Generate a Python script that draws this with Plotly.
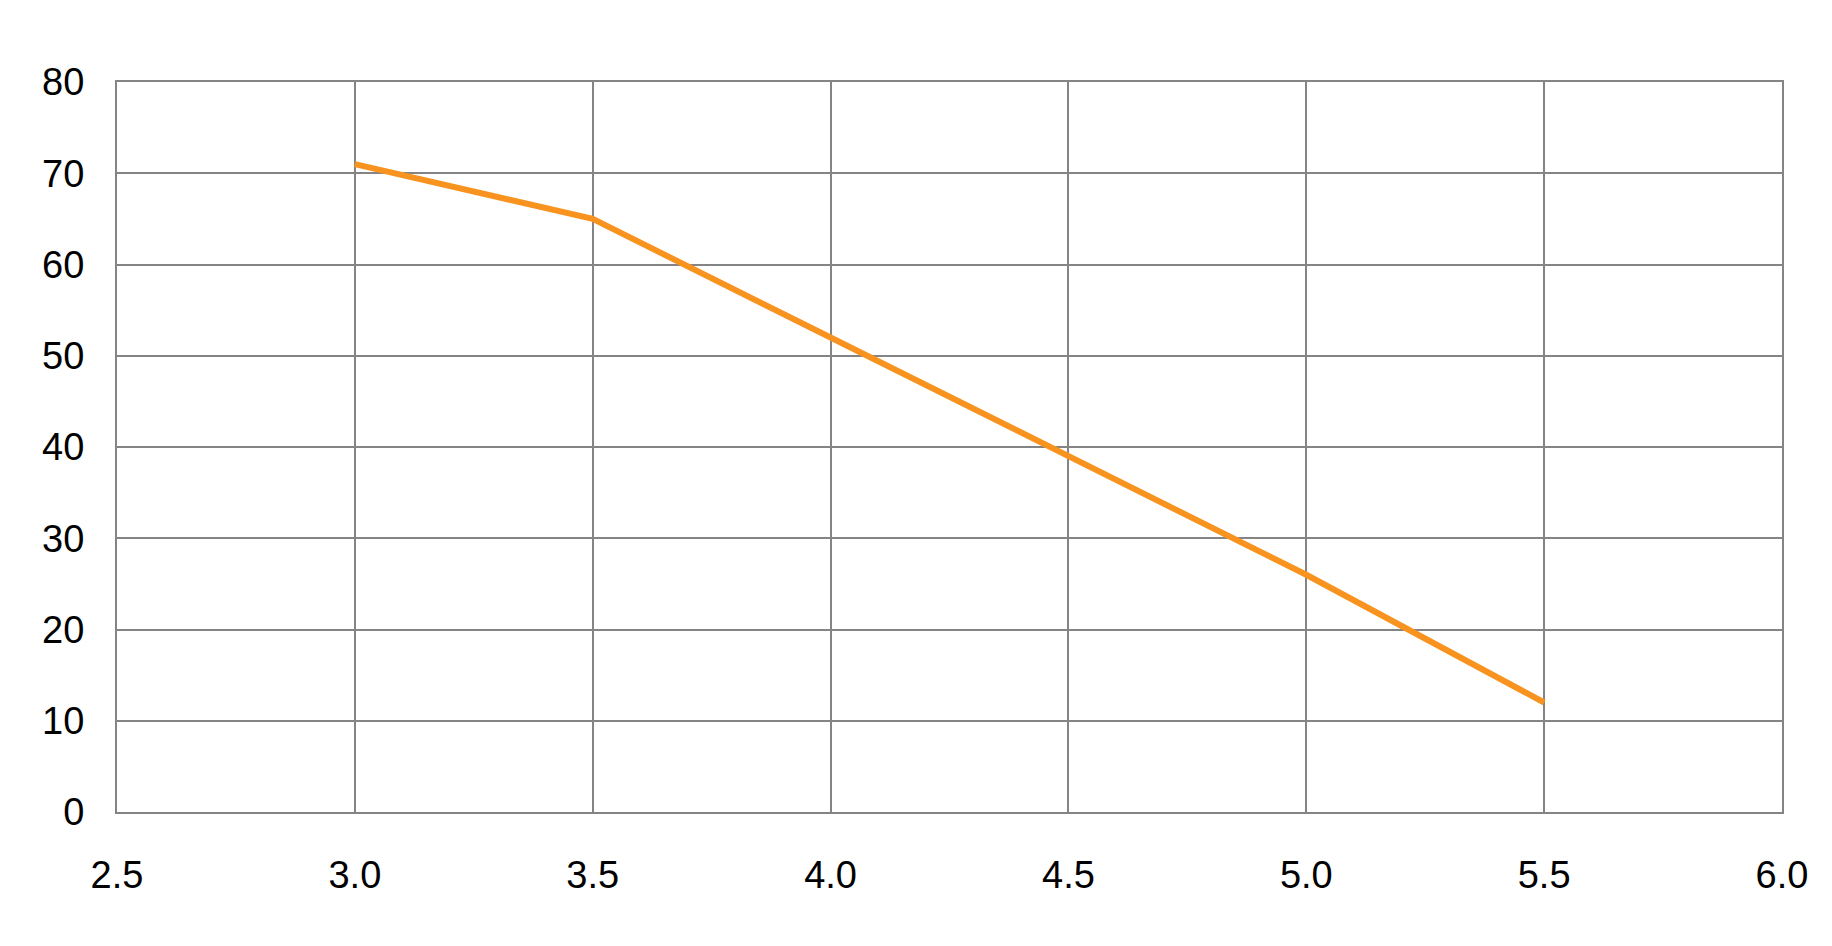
import plotly.graph_objects as go

x_values = [3.0, 3.5, 4.0, 4.5, 5.0, 5.5]
y_values = [71, 65, 52, 39, 26, 12]
x_range = [2.5, 6.0]
y_range = [0, 80]

grid_color = "#848484"
line_color = "#F7931E"
font_family = "Liberation Sans, Arial, sans-serif"

fig = go.Figure()
fig.add_trace(go.Scatter(
    x=x_values, y=y_values, mode="lines",
    line=dict(color=line_color, width=6),
    showlegend=False, hoverinfo="x+y",
))

fig.update_layout(
    width=1832, height=946,
    margin=dict(l=109, r=58, t=74, b=142),
    paper_bgcolor="white", plot_bgcolor="white",
    font=dict(family=font_family, size=38, color="black"),
)
fig.update_xaxes(
    range=x_range, dtick=0.5, tick0=2.5, tickformat=".1f",
    showgrid=True, gridcolor=grid_color, gridwidth=2,
    showline=True, linecolor=grid_color, linewidth=2, mirror=True,
    zeroline=False, ticks="outside", ticklen=28, tickcolor="rgba(0,0,0,0)",
)
fig.update_yaxes(
    range=y_range, dtick=10, tick0=0,
    showgrid=True, gridcolor=grid_color, gridwidth=2,
    showline=True, linecolor=grid_color, linewidth=2, mirror=True,
    zeroline=False, ticks="outside", ticklen=23, tickcolor="rgba(0,0,0,0)",
)

fig.write_html("out.html")
